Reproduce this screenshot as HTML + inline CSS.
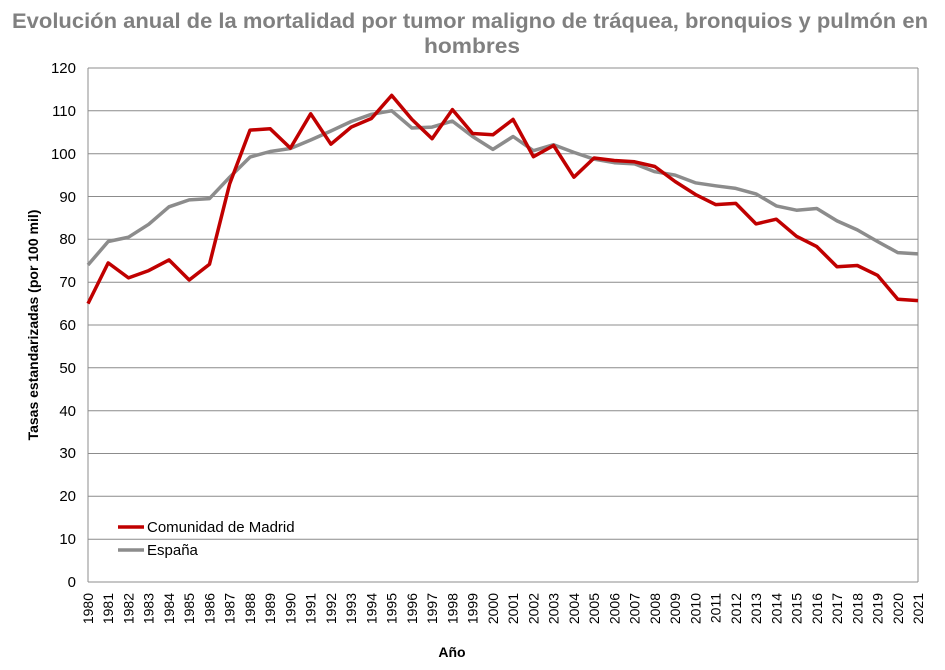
<!DOCTYPE html>
<html><head><meta charset="utf-8"><style>body{margin:0;background:#fff}svg{display:block}text{font-family:"Liberation Sans",sans-serif}</style></head>
<body>
<svg width="945" height="670" viewBox="0 0 945 670" xmlns="http://www.w3.org/2000/svg">
<text x="470" y="28" text-anchor="middle" font-size="21" font-weight="bold" fill="#808080" textLength="916" lengthAdjust="spacingAndGlyphs">Evolución anual de la mortalidad por tumor maligno de tráquea, bronquios y pulmón en</text>
<text x="472" y="53" text-anchor="middle" font-size="21" font-weight="bold" fill="#808080" textLength="96" lengthAdjust="spacingAndGlyphs">hombres</text>
<g stroke="#8c8c8c" stroke-width="1">
<line x1="88" y1="68" x2="918" y2="68"/><line x1="88" y1="110.8" x2="918" y2="110.8"/><line x1="88" y1="153.7" x2="918" y2="153.7"/><line x1="88" y1="196.5" x2="918" y2="196.5"/><line x1="88" y1="239.3" x2="918" y2="239.3"/><line x1="88" y1="282.2" x2="918" y2="282.2"/><line x1="88" y1="325" x2="918" y2="325"/><line x1="88" y1="367.8" x2="918" y2="367.8"/><line x1="88" y1="410.7" x2="918" y2="410.7"/><line x1="88" y1="453.5" x2="918" y2="453.5"/><line x1="88" y1="496.3" x2="918" y2="496.3"/><line x1="88" y1="539.2" x2="918" y2="539.2"/><line x1="88" y1="582" x2="918" y2="582"/>
<line x1="88" y1="68" x2="88" y2="582"/><line x1="918" y1="68" x2="918" y2="582"/>
</g>
<g font-size="15" fill="#000" text-anchor="end">
<text x="76" y="73">120</text><text x="76" y="116">110</text><text x="76" y="159">100</text><text x="76" y="202">90</text><text x="76" y="244">80</text><text x="76" y="287">70</text><text x="76" y="330">60</text><text x="76" y="373">50</text><text x="76" y="416">40</text><text x="76" y="458">30</text><text x="76" y="501">20</text><text x="76" y="544">10</text><text x="76" y="587">0</text>
</g>
<text transform="translate(38,325) rotate(-90)" text-anchor="middle" font-size="14" font-weight="bold">Tasas estandarizadas (por 100 mil)</text>
<text x="452" y="657" text-anchor="middle" font-size="14" font-weight="bold">Año</text>
<g font-size="14" fill="#000" text-anchor="end">
<text transform="translate(93,593) rotate(-90)">1980</text><text transform="translate(113.2,593) rotate(-90)">1981</text><text transform="translate(133.5,593) rotate(-90)">1982</text><text transform="translate(153.7,593) rotate(-90)">1983</text><text transform="translate(174,593) rotate(-90)">1984</text><text transform="translate(194.2,593) rotate(-90)">1985</text><text transform="translate(214.5,593) rotate(-90)">1986</text><text transform="translate(234.7,593) rotate(-90)">1987</text><text transform="translate(255,593) rotate(-90)">1988</text><text transform="translate(275.2,593) rotate(-90)">1989</text><text transform="translate(295.4,593) rotate(-90)">1990</text><text transform="translate(315.7,593) rotate(-90)">1991</text><text transform="translate(335.9,593) rotate(-90)">1992</text><text transform="translate(356.2,593) rotate(-90)">1993</text><text transform="translate(376.4,593) rotate(-90)">1994</text><text transform="translate(396.7,593) rotate(-90)">1995</text><text transform="translate(416.9,593) rotate(-90)">1996</text><text transform="translate(437.1,593) rotate(-90)">1997</text><text transform="translate(457.4,593) rotate(-90)">1998</text><text transform="translate(477.6,593) rotate(-90)">1999</text><text transform="translate(497.9,593) rotate(-90)">2000</text><text transform="translate(518.1,593) rotate(-90)">2001</text><text transform="translate(538.4,593) rotate(-90)">2002</text><text transform="translate(558.6,593) rotate(-90)">2003</text><text transform="translate(578.9,593) rotate(-90)">2004</text><text transform="translate(599.1,593) rotate(-90)">2005</text><text transform="translate(619.3,593) rotate(-90)">2006</text><text transform="translate(639.6,593) rotate(-90)">2007</text><text transform="translate(659.8,593) rotate(-90)">2008</text><text transform="translate(680.1,593) rotate(-90)">2009</text><text transform="translate(700.3,593) rotate(-90)">2010</text><text transform="translate(720.6,593) rotate(-90)">2011</text><text transform="translate(740.8,593) rotate(-90)">2012</text><text transform="translate(761,593) rotate(-90)">2013</text><text transform="translate(781.3,593) rotate(-90)">2014</text><text transform="translate(801.5,593) rotate(-90)">2015</text><text transform="translate(821.8,593) rotate(-90)">2016</text><text transform="translate(842,593) rotate(-90)">2017</text><text transform="translate(862.3,593) rotate(-90)">2018</text><text transform="translate(882.5,593) rotate(-90)">2019</text><text transform="translate(902.8,593) rotate(-90)">2020</text><text transform="translate(923,593) rotate(-90)">2021</text>
</g>
<polyline fill="none" stroke="#8c8c8c" stroke-width="3.5" stroke-linejoin="round" points="88,265 108.2,241.5 128.5,237.2 148.7,224.3 169,206.8 189.2,199.9 209.5,198.6 229.7,177.2 250,157.1 270.2,151.5 290.4,148.5 310.7,140 330.9,131 351.2,121.5 371.4,114.3 391.7,110.8 411.9,128 432.1,127.1 452.4,121.1 472.6,136.5 492.9,149.4 513.1,136.5 533.4,150.7 553.6,144.7 573.9,152.4 594.1,159.2 614.3,162.7 634.6,163.9 654.8,171.7 675.1,175.1 695.3,182.8 715.6,185.8 735.8,188.4 756,193.9 776.3,205.9 796.5,210.2 816.8,208.5 837,220.9 857.3,229.9 877.5,241.5 897.8,252.6 918,253.9"/>
<polyline fill="none" stroke="#c00000" stroke-width="3.5" stroke-linejoin="round" points="88,303.6 108.2,262.9 128.5,277.9 148.7,270.6 169,259.9 189.2,280 209.5,264.2 229.7,183.7 250,130.1 270.2,128.8 290.4,148.1 310.7,113.8 330.9,144.2 351.2,127.1 371.4,118.5 391.7,95.4 411.9,119.4 432.1,138.7 452.4,109.6 472.6,133.5 492.9,134.8 513.1,119.4 533.4,156.7 553.6,145.5 573.9,177.2 594.1,158 614.3,160.5 634.6,161.8 654.8,166.5 675.1,181.5 695.3,194.4 715.6,204.6 735.8,203.4 756,223.9 776.3,219.2 796.5,236.3 816.8,246.6 837,266.7 857.3,265.5 877.5,275.3 897.8,299.3 918,300.6"/>
<line x1="118" y1="527" x2="144" y2="527" stroke="#c00000" stroke-width="3.5"/>
<text x="147" y="532" font-size="15">Comunidad de Madrid</text>
<line x1="118" y1="550" x2="144" y2="550" stroke="#8c8c8c" stroke-width="3.5"/>
<text x="147" y="555" font-size="15">España</text>
</svg>
</body></html>
